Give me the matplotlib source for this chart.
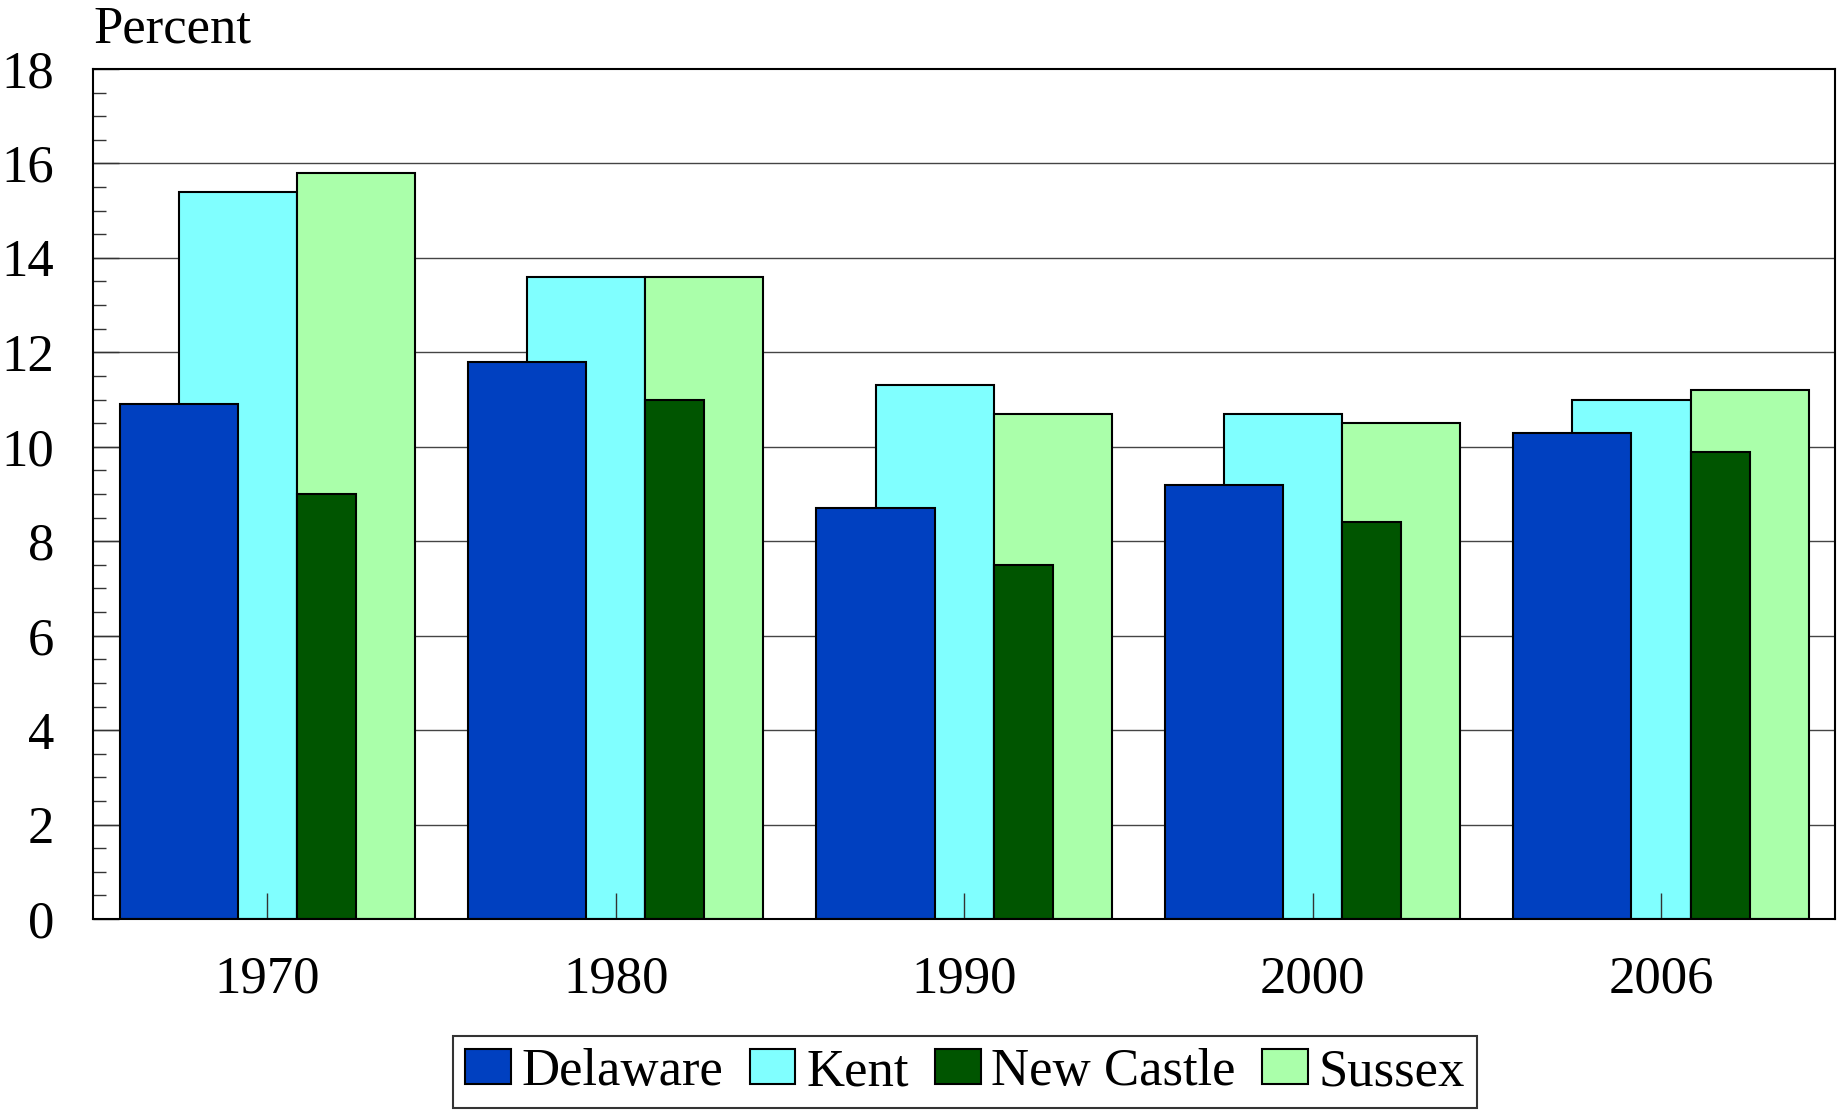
import numpy as np
import matplotlib
matplotlib.use('Agg')
import matplotlib.pyplot as plt
from matplotlib.ticker import MultipleLocator

years = ['1970', '1980', '1990', '2000', '2006']
delaware = [10.9, 11.8, 8.7, 9.2, 10.3]
kent = [15.4, 13.6, 11.3, 10.7, 11.0]
new_castle = [9.0, 11.0, 7.5, 8.4, 9.9]
sussex = [15.8, 13.6, 10.7, 10.5, 11.2]

plt.rcParams['font.family'] = ['Liberation Serif', 'DejaVu Serif']
plt.rcParams['font.size'] = 38

fig = plt.figure(figsize=(18.38, 11.11), dpi=100)
ax = fig.add_axes([0.0506, 0.1728, 0.9479, 0.7651])

x = np.arange(len(years))
w = 0.1695
ec = 'black'
lw = 1.5
# wide bars behind, overlapping ones in front
b_kent = ax.bar(x - 0.5 * w, kent, 2 * w, color='#80ffff', edgecolor=ec, linewidth=lw, zorder=1)
b_sus = ax.bar(x + 1.5 * w, sussex, 2 * w, color='#aaffaa', edgecolor=ec, linewidth=lw, zorder=1)
b_del = ax.bar(x - 1.5 * w, delaware, 2 * w, color='#0040c0', edgecolor=ec, linewidth=lw, zorder=2)
b_nc = ax.bar(x + 1.0 * w, new_castle, w, color='#005500', edgecolor=ec, linewidth=lw, zorder=2)

for y in range(2, 18, 2):
    ax.axhline(y, color='#444444', linewidth=1.0, zorder=0)

ax.set_xlim(-0.5, 4.5)
ax.set_ylim(0, 18)
ax.set_xticks(x)
ax.set_xticklabels(years)
ax.yaxis.set_major_locator(MultipleLocator(2))
ax.yaxis.set_minor_locator(MultipleLocator(0.5))
ax.tick_params(axis='y', which='major', direction='in', length=19, width=1.0,
               color='#333333', pad=28)
ax.tick_params(axis='y', which='minor', direction='in', length=9.5, width=1.0,
               color='#333333')
ax.tick_params(axis='x', which='major', direction='in', length=19, width=1.0,
               color='#333333', pad=26)
ax.tick_params(axis='x', which='minor', bottom=False)
for s in ax.spines.values():
    s.set_linewidth(1.5)
    s.set_zorder(5)

ax.annotate('Percent', xy=(0, 1), xycoords='axes fraction', xytext=(0, 19),
            textcoords='offset points', ha='left', va='baseline')

leg = fig.legend([b_del, b_kent, b_nc, b_sus], ['Delaware', 'Kent', 'New Castle', 'Sussex'],
                 loc='lower center', bbox_to_anchor=(0.525, 0.003), ncol=4,
                 frameon=True, fancybox=False, shadow=False,
                 handlelength=0.87, handleheight=0.62, handletextpad=0.2,
                 columnspacing=0.5, borderpad=0.22, borderaxespad=0)
leg.get_frame().set_edgecolor('black')
leg.get_frame().set_linewidth(1.5)

fig.savefig('out.png', dpi=100)
